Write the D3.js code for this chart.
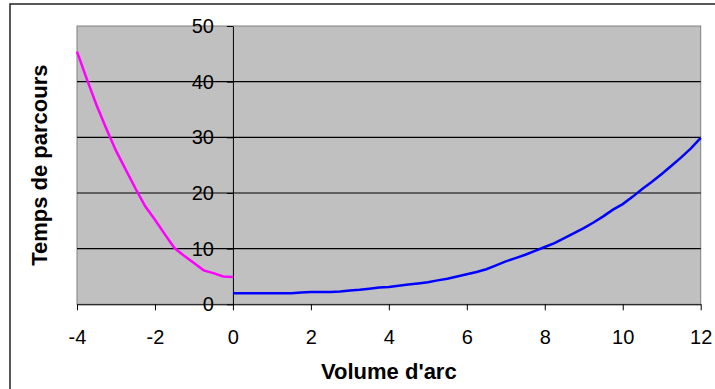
<!DOCTYPE html>
<html>
<head>
<meta charset="utf-8">
<script src="https://cdn.jsdelivr.net/npm/d3@7"></script>
<style>
  body { margin: 0; background: #fff; }
  .tick text { font-family: Arial, "Liberation Sans", sans-serif; font-size: 20px; fill: #000; }
  .title { font-family: Arial, "Liberation Sans", sans-serif; font-size: 22px; font-weight: bold; fill: #000; }
</style>
</head>
<body>
<div id="chart"></div>
<script>
// left branch (negative volumes)
const xNeg = [-4, -3.75, -3.5, -3.25, -3, -2.75, -2.5, -2.25, -2, -1.75, -1.5, -1.25, -1, -0.75, -0.5, -0.25, 0];
const yNeg = [45.4, 40.5, 35.8, 31.6, 27.6, 24.2, 20.8, 17.6, 15.2, 12.6, 10.1, 8.7, 7.4, 6.1, 5.6, 5.0, 4.9];

// right branch (positive volumes)
const xPos = [0, 0.25, 0.5, 0.75, 1, 1.25, 1.5, 1.75, 2, 2.25, 2.5, 2.75, 3, 3.25, 3.5, 3.75, 4,
  4.25, 4.5, 4.75, 5, 5.25, 5.5, 5.75, 6, 6.25, 6.5, 6.75, 7, 7.25, 7.5, 7.75, 8,
  8.25, 8.5, 8.75, 9, 9.25, 9.5, 9.75, 10, 10.25, 10.5, 10.75, 11, 11.25, 11.5, 11.75, 12];
const yPos = [2.0, 2.0, 2.0, 2.0, 2.0, 2.0, 2.0, 2.1, 2.2, 2.2, 2.2, 2.3, 2.5, 2.6, 2.8, 3.0, 3.1,
  3.35, 3.55, 3.75, 3.95, 4.3, 4.6, 5.0, 5.4, 5.8, 6.3, 7.0, 7.7, 8.3, 8.9, 9.6, 10.3,
  11.0, 11.9, 12.8, 13.7, 14.7, 15.8, 17.0, 18.0, 19.3, 20.7, 22.0, 23.4, 24.9, 26.4, 28.0, 29.9];

const xTicks = [-4, -2, 0, 2, 4, 6, 8, 10, 12];
const yTicks = [0, 10, 20, 30, 40, 50];

const width = 715, height = 389;
const margin = { top: 26, right: 14, bottom: 84.7, left: 77 };

const svg = d3.select("#chart")
    .append("svg")
    .attr("width", width)
    .attr("height", height);

// chart frame (cut off at right/bottom like the original)
svg.append("rect")
    .attr("x", 10)
    .attr("y", 4)
    .attr("width", 720)
    .attr("height", 400)
    .attr("fill", "none")
    .attr("stroke", "#222")
    .attr("stroke-width", 1.5);

const x = d3.scaleLinear()
    .domain([-4, 12])
    .range([margin.left, width - margin.right - 0.3]);

const y = d3.scaleLinear()
    .domain([0, 50])
    .range([height - margin.bottom, margin.top]);

// plot area
svg.append("rect")
    .attr("x", x(-4))
    .attr("y", y(50))
    .attr("width", x(12) - x(-4))
    .attr("height", y(0) - y(50))
    .attr("fill", "#c0c0c0")
    .attr("stroke", "#808080")
    .attr("stroke-width", 1);

// gridlines
svg.append("g")
    .selectAll("line")
    .data(yTicks.filter(d => d > 0 && d < 50))
    .join("line")
    .attr("x1", x(-4))
    .attr("x2", x(12))
    .attr("y1", d => y(d))
    .attr("y2", d => y(d))
    .attr("stroke", "#000")
    .attr("stroke-width", 1.2);

const xAxis = g => g
    .attr("transform", `translate(0,${y(0)})`)
    .call(d3.axisBottom(x).tickValues(xTicks).tickFormat(d => String(d))
        .tickSize(6).tickPadding(19.5).tickSizeOuter(0))
    .call(g => g.select(".domain").attr("stroke", "#000"))
    .call(g => g.selectAll(".tick line").attr("stroke", "#000"));

const yAxis = g => g
    .attr("transform", `translate(${x(0)},0)`)
    .call(d3.axisLeft(y).tickValues(yTicks).tickFormat(d => String(d))
        .tickSize(6).tickPadding(13).tickSizeOuter(0))
    .call(g => g.select(".domain").attr("stroke", "#000"))
    .call(g => g.selectAll(".tick line").attr("stroke", "#000"));

svg.append("g").call(xAxis);
svg.append("g").call(yAxis);

const line = d3.line()
    .x(d => x(d[0]))
    .y(d => y(d[1]));

svg.append("path")
    .datum(d3.zip(xNeg, yNeg))
    .attr("fill", "none")
    .attr("stroke", "#ff00ff")
    .attr("stroke-width", 2.5)
    .attr("d", line);

svg.append("path")
    .datum(d3.zip(xPos, yPos))
    .attr("fill", "none")
    .attr("stroke", "#0000ff")
    .attr("stroke-width", 2.5)
    .attr("d", line);

// axis titles
svg.append("text")
    .attr("class", "title")
    .attr("x", (x(-4) + x(12)) / 2)
    .attr("y", 378.5)
    .attr("text-anchor", "middle")
    .text("Volume d'arc");

svg.append("text")
    .attr("class", "title")
    .attr("transform", `translate(47,${(y(0) + y(50)) / 2}) rotate(-90)`)
    .attr("text-anchor", "middle")
    .text("Temps de parcours");
</script>
</body>
</html>
